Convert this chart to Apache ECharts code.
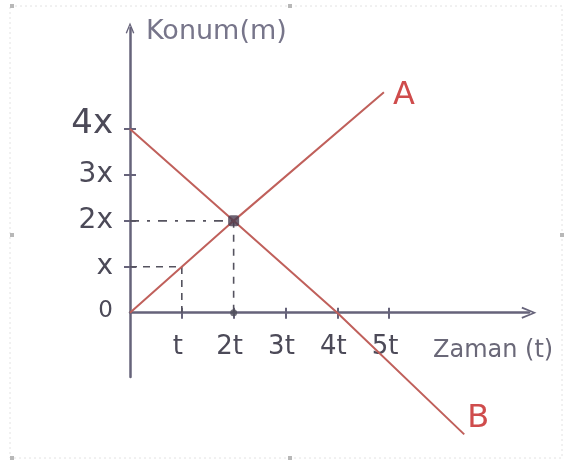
<!DOCTYPE html>
<html>
<head>
<meta charset="utf-8">
<script src="https://cdn.jsdelivr.net/npm/echarts@6/dist/echarts.min.js"></script>
<style>
  html, body { margin: 0; padding: 0; background: #fff; }
  #chart { width: 564px; height: 461px; }
</style>
</head>
<body>
<div id="chart"></div>
<script>
// Time axis: ticks at multiples of t
const timeTicks = [1, 2, 3, 4, 5];
const timeLabels = ['t', '2t', '3t', '4t', '5t'];
// Position axis: ticks at multiples of x
const posTicks = [0, 1, 2, 3, 4];
const posLabels = ['0', 'x', '2x', '3x', '4x'];

// Object A: starts at the origin and moves forward
const lineA = [[0, 0], [2, 2], [4.9, 4.8]];
// Object B: starts at 4x and moves backward, crossing zero at 4t
const lineB = [[0, 4], [2, 2], [4, 0], [6.45, -2.65]];
// Where A and B meet
const meetPoint = [2, 2];
// Dashed guides down to the axes
const guideX = [[0, 1], [1, 1], [1, 0]];
const guideMeetH = [[0, 2], [2, 2]];
const guideMeetV = [[2, 2], [2, 0]];

// Visible extent of both axes
const tRange = [0, 7.7];
const posRange = [-1.4, 6.2];

const axisColor = '#66637a';
const textColor = '#4c4a58';
const lineColor = '#c0605b';
const markColor = '#cf4c4c';
const font = 'DejaVu Sans';
const arrowPath = 'path://M0,12 L5,0 L10,12 L8.5,12.6 L5,3.4 L1.5,12.6 Z';
const timeLabelGap = 22;

const chart = echarts.init(document.getElementById('chart'), null, { renderer: 'canvas' });

const tickStyle = { color: axisColor, width: 2 };

chart.setOption({
  animation: false,
  backgroundColor: '#ffffff',
  grid: { left: 130, right: 35, top: 28, bottom: 84, containLabel: false, outerBoundsMode: 'none' },
  xAxis: [
    {
      type: 'value', min: tRange[0], max: tRange[1],
      axisLine: { onZero: true, symbol: ['none', arrowPath], symbolSize: [14, 15], lineStyle: { color: axisColor, width: 2.5 } },
      axisTick: { show: true, customValues: timeTicks, length: 6, lineStyle: tickStyle },
      axisLabel: {
        customValues: timeTicks, margin: timeLabelGap, color: textColor, fontFamily: font, fontSize: 26,
        padding: [0, 8, 0, 0],
        formatter: v => timeLabels[timeTicks.indexOf(v)] || ''
      },
      splitLine: { show: false }
    },
    {
      type: 'value', min: tRange[0], max: tRange[1], position: 'bottom',
      name: 'Zaman (t)', nameLocation: 'end', nameGap: -96,
      nameTextStyle: { color: '#6a6878', fontFamily: font, fontSize: 24, align: 'left', verticalAlign: 'top', padding: [26, 0, 0, 0] },
      axisLine: { show: false, onZero: true, onZeroAxisIndex: 1 },
      axisTick: { show: true, inside: true, customValues: timeTicks, length: 5, lineStyle: tickStyle },
      axisLabel: { show: false },
      splitLine: { show: false }
    }
  ],
  yAxis: [
    {
      type: 'value', min: posRange[0], max: posRange[1], position: 'left',
      axisLine: { onZero: true, symbol: ['none', arrowPath], symbolSize: [11, 11], lineStyle: { color: axisColor, width: 2.5 } },
      axisTick: { show: true, customValues: posTicks.filter(v => v !== 0), length: 6, lineStyle: tickStyle },
      axisLabel: {
        customValues: posTicks, margin: 17, color: textColor, fontFamily: font,
        formatter: v => {
          const s = posLabels[posTicks.indexOf(v)] || '';
          if (v === 4) return '{big|' + s + '}';
          if (v === 0) return '{small|' + s + '}';
          return '{mid|' + s + '}';
        },
        rich: {
          big: { fontSize: 34, color: textColor, fontFamily: font, padding: [0, 0, 10, 0] },
          mid: { fontSize: 28, color: textColor, fontFamily: font },
          small: { fontSize: 23, color: textColor, fontFamily: font, padding: [0, 0, 4, 0] }
        }
      },
      splitLine: { show: false }
    },
    {
      type: 'value', min: posRange[0], max: posRange[1], position: 'left',
      name: 'Konum(m)', nameLocation: 'end', nameGap: -4,
      nameTextStyle: { color: '#77758a', fontFamily: font, fontSize: 27, align: 'left', verticalAlign: 'middle', padding: [0, 0, 0, 16] },
      axisLine: { show: false, onZero: true, onZeroAxisIndex: 1 },
      axisTick: { show: true, inside: true, customValues: posTicks.filter(v => v !== 0), length: 6, lineStyle: tickStyle },
      axisLabel: { show: false },
      splitLine: { show: false }
    }
  ],
  series: [
    {
      type: 'line', data: guideX, symbol: 'none', z: 1,
      lineStyle: { color: '#55535f', width: 1.6, type: [7, 6] }
    },
    {
      type: 'line', data: guideMeetH, symbol: 'none', z: 1,
      lineStyle: { color: '#55535f', width: 1.6, type: [9, 8, 3, 8] }
    },
    {
      type: 'line', data: guideMeetV, symbol: 'none', z: 1,
      lineStyle: { color: '#55535f', width: 1.6, type: [7, 7] }
    },
    {
      name: 'A', type: 'line', data: lineA, symbol: 'none', clip: false, z: 3,
      lineStyle: { color: lineColor, width: 2 },
      endLabel: { show: true, formatter: 'A', color: markColor, fontFamily: font, fontSize: 32, offset: [1, 3] }
    },
    {
      name: 'B', type: 'line', data: lineB, symbol: 'none', clip: false, z: 3,
      lineStyle: { color: lineColor, width: 2 },
      endLabel: { show: true, formatter: 'B', color: markColor, fontFamily: font, fontSize: 32, offset: [-5, -16] }
    },
    {
      type: 'scatter', data: [meetPoint], symbol: 'roundRect', symbolSize: 11, z: 5,
      itemStyle: { color: '#4a3c50' }
    },
    {
      type: 'scatter', data: [[meetPoint[0], 0]], symbol: 'circle', symbolSize: 7, z: 5,
      itemStyle: { color: '#4f4d5a' }
    }
  ],
  graphic: [
    { type: 'rect', shape: { x: 10, y: 6, width: 552, height: 452 }, style: { fill: 'none', stroke: '#e2e2e2', lineWidth: 1, lineDash: [2, 3] }, silent: true, z: -1 },
    { type: 'rect', shape: { x: 10, y: 4, width: 4, height: 4 }, style: { fill: '#b8b8b8' }, silent: true },
    { type: 'rect', shape: { x: 288, y: 4, width: 4, height: 4 }, style: { fill: '#b8b8b8' }, silent: true },
    { type: 'rect', shape: { x: 10, y: 233, width: 4, height: 4 }, style: { fill: '#b8b8b8' }, silent: true },
    { type: 'rect', shape: { x: 10, y: 456, width: 4, height: 4 }, style: { fill: '#b8b8b8' }, silent: true },
    { type: 'rect', shape: { x: 288, y: 456, width: 4, height: 4 }, style: { fill: '#b8b8b8' }, silent: true },
    { type: 'rect', shape: { x: 560, y: 233, width: 4, height: 4 }, style: { fill: '#b8b8b8' }, silent: true }
  ]
});

// Time labels hang from the zero line rather than the bottom of the grid:
// pull them up by the distance between the two.
const zeroPx = chart.convertToPixel({ yAxisIndex: 0 }, 0);
const bottomPx = chart.convertToPixel({ yAxisIndex: 0 }, posRange[0]);
chart.setOption({
  xAxis: [{ axisLabel: { margin: timeLabelGap - (bottomPx - zeroPx) } }, {}]
});
</script>
</body>
</html>
